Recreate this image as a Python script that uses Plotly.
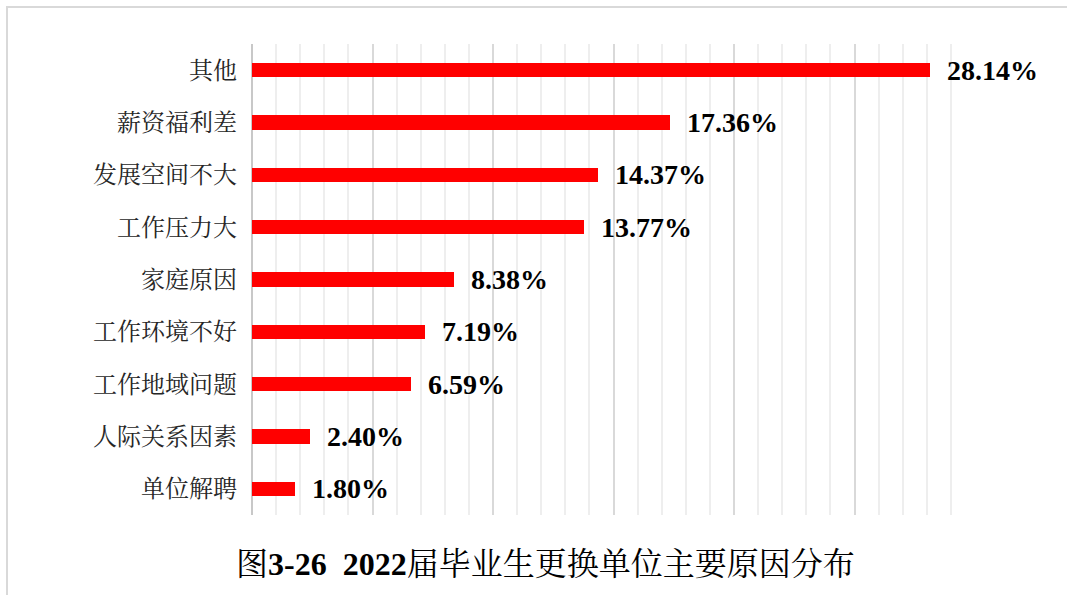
import plotly.graph_objects as go

# Reasons for changing employer, 2022 graduates (percent)
categories = ["其他", "薪资福利差", "发展空间不大", "工作压力大", "家庭原因",
              "工作环境不好", "工作地域问题", "人际关系因素", "单位解聘"]
values = [28.14, 17.36, 14.37, 13.77, 8.38, 7.19, 6.59, 2.40, 1.80]
x_range = [0, 30]

CJK = "Noto Serif CJK SC, Noto Sans CJK SC, serif"
LATIN = "Liberation Serif, Noto Serif CJK SC, Noto Sans CJK SC, serif"

fig = go.Figure()
fig.add_trace(go.Bar(
    x=values,
    y=categories,
    orientation="h",
    marker=dict(color="#ff0000", line=dict(width=0)),
    width=0.27,
    hoverinfo="skip",
))

for cat, val in zip(categories, values):
    fig.add_annotation(
        x=val, y=cat, xref="x", yref="y",
        text=f"<b>{val:.2f}%</b>",
        showarrow=False, xanchor="left", yanchor="middle",
        xshift=15,
        font=dict(family=LATIN, size=28, color="#000000"),
    )

# caption below the plot
fig.add_annotation(
    x=0.5, y=0, xref="paper", yref="paper",
    xanchor="center", yanchor="middle",
    yshift=-49, xshift=-68,
    text="图<b>3-26  2022</b>届毕业生更换单位主要原因分布",
    showarrow=False,
    font=dict(family=LATIN, size=32, color="#000000"),
)

# outer frame
fig.add_shape(
    type="rect", xref="paper", yref="paper",
    x0=-245 / 723, x1=1.5, y0=-0.3, y1=(515 - 7) / 471,
    line=dict(color="#d9d9d9", width=2),
    fillcolor="rgba(0,0,0,0)",
    layer="below",
)

fig.update_layout(
    width=1067, height=595,
    margin=dict(l=252, r=92, t=44, b=80),
    paper_bgcolor="#ffffff",
    plot_bgcolor="#ffffff",
    showlegend=False,
    bargap=0.0,
    xaxis=dict(
        range=x_range,
        dtick=5,
        showticklabels=False,
        showgrid=True,
        gridcolor="#d9d9d9",
        gridwidth=1.5,
        zeroline=True,
        zerolinecolor="#c8c8c8",
        zerolinewidth=2,
        minor=dict(dtick=1, showgrid=True, gridcolor="#eeeeee", gridwidth=1.5),
        fixedrange=True,
    ),
    yaxis=dict(
        categoryorder="array",
        categoryarray=categories[::-1],
        showgrid=False,
        showline=False,
        ticks="",
        ticklabelstandoff=14,
        tickfont=dict(family=CJK, size=24, color="#262626"),
        fixedrange=True,
    ),
)

fig.write_html("out.html")
